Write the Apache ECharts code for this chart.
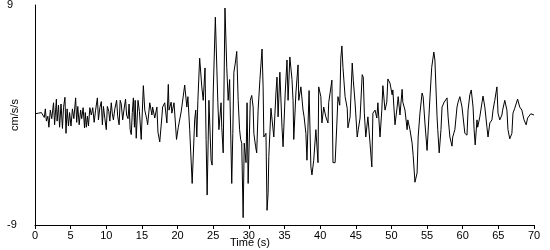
<!DOCTYPE html>
<html>
<head>
<meta charset="utf-8">
<script src="https://cdn.jsdelivr.net/npm/echarts@6/dist/echarts.min.js"></script>
<style>html,body{margin:0;padding:0;background:#fff;}#c{width:550px;height:250px;}</style>
</head>
<body>
<div id="c"></div>
<script>
// Time (s)
const time = [
0,0.25,0.5,0.7,0.9,1.1,1.3,1.45,1.6,1.8,1.95,2.15,2.35,2.6,2.75,3.0,3.1,3.3,3.45,3.65,3.85,4.0,4.2,4.35,4.5,4.7,4.85,5.05,5.25,5.45,5.7,5.85,6.0,6.2,6.4,6.55,6.75,6.95,7.05,7.2,7.35,7.5,7.7,7.9,8.1,8.3,8.5,8.75,8.9,9.1,9.3,9.45,9.6,9.8,10.0,10.15,10.35,10.5,10.7,10.85,11.0,11.2,11.45,11.6,11.8,11.95,12.1,12.3,12.5,12.7,12.85,13.05,13.2,13.35,13.5,13.65,13.8,13.95,
14.05,14.2,14.45,14.65,14.9,15.2,15.4,15.7,15.8,16.1,16.4,16.5,16.8,17.1,17.25,17.5,17.8,17.9,18.2,18.5,18.7,18.8,19.1,19.2,19.5,19.85,20.1,20.5,20.8,21.0,21.3,21.45,21.7,22.05,22.4,22.55,22.7,22.85,23.1,23.4,23.6,23.85,24.0,24.15,24.4,24.7,24.85,25.0,25.3,25.45,25.65,25.8,26.1,26.2,26.4,26.65,26.9,27.1,27.3,27.6,27.75,27.9,28.1,28.3,28.5,28.7,28.85,29.0,29.2,29.35,29.6,29.75,29.9,30.2,30.4,30.6,30.7,30.95,31.1,31.3,31.55,31.85,32.0,32.1,32.4,32.55,32.7,32.8,33.1,33.25,33.5,33.8,33.95,34.1,34.35,34.65,34.8,35.1,35.35,35.5,35.75,36.05,36.2,36.3,36.6,36.9,37.0,37.3,37.6,37.75,38.0,38.15,38.45,38.7,38.85,39.1,39.4,39.7,39.8,40.1,40.25,40.5,40.8,41.1,41.2,41.65,41.8,42.1,42.35,42.5,42.75,42.9,43.05,43.2,43.5,43.8,43.9,44.2,44.5,44.65,44.9,45.2,45.35,45.6,45.9,46.05,46.2,46.4,46.7,47.0,47.25,47.4,47.7,47.95,48.1,48.4,48.65,48.8,49.1,49.35,49.5,49.8,50.1,50.2,50.5,50.8,50.95,51.2,51.5,51.6,51.9,52.2,52.3,52.6,52.9,53.05,53.3,53.6,53.75,54.0,54.3,54.45,54.7,55.0,55.1,55.4,55.65,55.95,56.1,56.4,56.5,56.7,56.95,57.1,57.4,57.8,57.95,58.2,58.5,58.6,58.9,59.2,59.35,59.6,59.9,60.05,60.3,60.6,60.75,61.0,61.2,61.45,61.6,61.75,62.0,62.1,62.4,62.7,62.85,63.1,63.4,63.55,63.8,64.1,64.25,64.5,64.8,64.95,65.2,65.5,65.6,65.9,66.2,66.35,66.6,66.9,67.05,67.3,67.7,68.0,68.3,68.6,68.9,69.1,69.55,70.0
];
// Acceleration (cm/s/s)
const accel = [
0.1,0.1,0.15,0.05,0.2,0.0,-0.2,0.5,-0.5,-0.1,-1.0,0.4,-0.3,1.0,-0.8,1.3,-0.5,0.8,-1.0,0.9,-1.1,0.6,1.45,-1.5,0.5,-0.9,0.2,-0.9,0.5,-0.3,1.4,-0.6,0.7,-0.8,0.4,-0.3,0.6,-1.05,0.2,-1.0,-0.1,-0.9,0.6,0.0,0.6,-0.6,0.4,1.4,-0.4,0.6,1.1,-0.8,0.7,-0.3,-1.2,0.7,0.3,-0.5,1.0,0.1,-0.4,0.5,1.2,-0.1,-0.8,1.2,0.9,-0.4,0.5,1.3,0.0,-0.3,0.9,-1.2,-1.6,0.2,1.4,-1.0,
1.2,-1.9,1.2,0.3,-2.0,2.4,0.4,-0.4,-0.8,1.0,0.0,0.65,-0.25,0.65,-1.4,-2.2,-0.15,0.65,1.0,-0.65,2.5,0.4,1.05,0.15,1.0,-2.0,-1.0,0.25,1.55,2.45,0.65,1.5,-1.2,-5.6,-0.4,0.4,-1.8,1.2,4.65,2.3,1.2,3.85,-2.0,-6.55,1.2,-3.7,-4.1,1.8,8.0,7.9,1.0,-1.2,1.0,-1.0,-3.1,8.75,3.9,1.2,2.9,-5.6,-1.5,3.5,4.25,5.2,1.2,-1.2,-2.0,-2.3,-8.4,-2.3,-3.9,1.0,-5.6,1.2,1.6,0.65,-1.5,-2.6,-3.1,0.4,2.9,5.4,2.3,-1.8,-1.5,-7.8,-6.4,-3.4,0.55,0.4,-1.8,1.8,3.1,-0.15,3.5,-1.0,-2.6,1.8,4.5,1.2,4.75,2.9,1.2,-2.0,1.8,4.1,1.2,2.3,0.4,-0.15,-1.5,-3.7,2.0,-4.25,-4.9,-3.7,-1.2,-3.9,2.3,1.5,-0.65,0.65,-0.15,-0.65,1.0,2.85,-3.9,-3.9,-0.65,1.5,0.8,4.65,5.65,3.9,1.5,0.55,-1.05,-0.15,4.25,2.85,1.0,-1.8,-1.2,-0.25,3.3,3.1,0.15,-1.8,-0.15,-2.3,-4.25,0.15,0.4,-0.25,1.0,-1.8,0.4,2.4,0.4,1.05,2.95,2.6,1.65,2.05,-0.8,0.65,1.5,0.0,2.1,1.05,0.4,-1.2,-0.4,-1.2,-2.3,-3.3,-5.5,-4.75,-1.8,0.15,1.8,1.5,-0.65,-2.9,-3.0,1.4,3.9,5.15,4.5,-0.15,-1.2,-3.1,-1.2,0.65,1.05,1.4,-0.15,-1.8,-2.55,-1.8,-1.2,0.65,1.05,1.5,0.65,-0.15,-1.5,-1.65,0.4,1.65,2.05,0.65,-1.2,-2.45,-0.4,-1.0,-0.15,1.0,1.55,0.65,-1.0,-1.8,-0.65,-0.4,0.4,1.2,2.3,0.15,-0.4,0.0,0.4,1.2,0.4,-1.2,-1.95,-1.5,0.15,0.55,1.3,0.65,0.4,-0.4,-0.8,-0.25,0.1,0.0
];
const xTicks = {min: 0, max: 70, step: 5};
const yTicks = {min: -9, max: 9, step: 18};
const xTitle = 'Time (s)';
const yTitle = 'cm/s/s';

const points = time.map((t, i) => [t, accel[i]]);
const font = 'Liberation Sans';
const chart = echarts.init(document.getElementById('c'), null, {renderer: 'canvas'});
chart.setOption({
  animation: false,
  backgroundColor: '#ffffff',
  grid: {left: 35, right: 16, top: 5, bottom: 25, containLabel: false, outerBoundsMode: 'none'},
  xAxis: {
    type: 'value', min: xTicks.min, max: xTicks.max, interval: xTicks.step,
    axisLine: {onZero: false, lineStyle: {color: '#000', width: 1}},
    axisTick: {show: true, length: 4, lineStyle: {color: '#000'}},
    axisLabel: {color: '#000', fontFamily: font, fontSize: 11, margin: 5},
    splitLine: {show: false}
  },
  yAxis: {
    type: 'value', min: yTicks.min, max: yTicks.max, interval: yTicks.step,
    axisLine: {show: true, lineStyle: {color: '#000', width: 1}},
    axisTick: {show: false},
    axisLabel: {color: '#000', fontFamily: font, fontSize: 11, align: 'left', margin: 28},
    splitLine: {show: false}
  },
  graphic: [{
    type: 'text', left: 230, top: 237,
    style: {text: xTitle, fill: '#000', font: '11px "Liberation Sans"'}
  }, {
    type: 'text', x: 15, y: 115, rotation: Math.PI / 2,
    style: {text: yTitle, fill: '#000', font: '11px "Liberation Sans"', align: 'center', verticalAlign: 'middle'}
  }],
  series: [{
    type: 'line', data: points, showSymbol: false, symbol: 'none',
    lineStyle: {color: '#000', width: 1}, silent: true
  }]
});
</script>
</body>
</html>
